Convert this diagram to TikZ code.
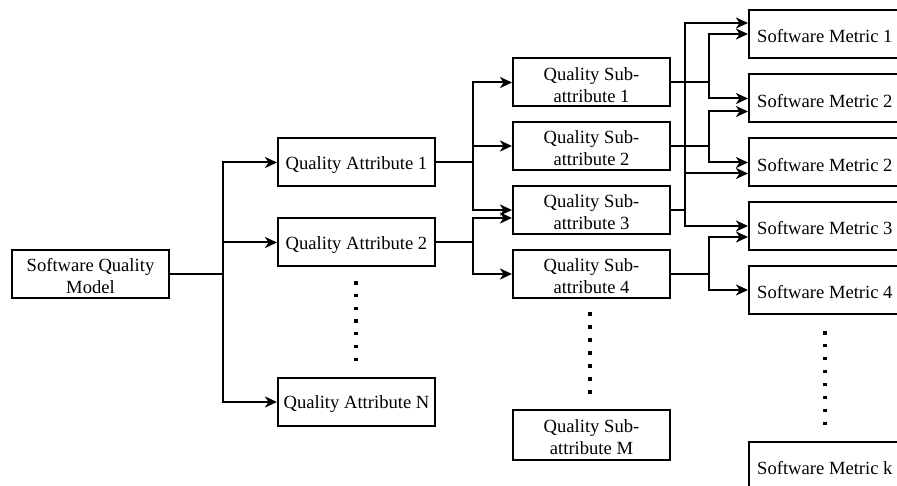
\documentclass[tikz,border=0pt]{standalone}
\usepackage{fontspec}
\setmainfont{Liberation Serif}
\usetikzlibrary{arrows.meta,calc}

\tikzset{
  box/.style={draw=black, line width=2pt, rectangle, minimum height=48pt, inner sep=0pt},
  wbox/.style={box, minimum width=157pt},
  mbox/.style={box, minimum width=160pt, anchor=west},
  txt/.style={font=\fontsize{18.6}{22}\selectfont, align=center, inner sep=0pt, yshift=-2.5pt},
  mtxt/.style={txt, anchor=west, xshift=9pt},
  link/.style={line width=2pt, -{Stealth[length=12pt, width=11pt, inset=3.5pt]}},
  wire/.style={line width=2pt},
  dot/.style={fill=black}
}

\newcommand{\dotcol}[4]{% x, first y, step, count
  \foreach \k in {1,...,#4}{
    \fill[dot] ({#1-1.6},{#2+(\k-1)*#3-1.6}) rectangle ++(3.2,3.2);
  }}

\begin{document}
\begin{tikzpicture}[x=1pt, y=-1pt]
  \useasboundingbox (0,0) rectangle (897,486);
  \clip (0,0) rectangle (897,486);

  % root
  \node[wbox, label={[txt]center:{Software Quality\\Model}}] (sqm) at (90.5,274) {};

  % quality attributes
  \node[wbox, label={[txt]center:Quality Attribute 1}] (qa1) at (356.5,162.5) {};
  \node[wbox, label={[txt]center:Quality Attribute 2}] (qa2) at (356.5,242.5) {};
  \node[wbox, label={[txt]center:Quality Attribute N}] (qan) at (356.5,402) {};

  % sub-attributes
  \node[wbox, label={[txt]center:{Quality Sub-\\attribute 1}}] (sa1) at (591.5,82.5) {};
  \node[wbox, label={[txt]center:{Quality Sub-\\attribute 2}}] (sa2) at (591.5,146) {};
  \node[wbox, label={[txt]center:{Quality Sub-\\attribute 3}}] (sa3) at (591.5,210) {};
  \node[wbox, label={[txt]center:{Quality Sub-\\attribute 4}}] (sa4) at (591.5,274) {};
  \node[wbox, minimum height=50pt, label={[txt]center:{Quality Sub-\\attribute M}}] (sam) at (591.5,435) {};

  % software metrics (running past the right border)
  \node[mbox, label={[mtxt]west:Software Metric 1}] (m1)  at (748,34) {};
  \node[mbox, label={[mtxt]west:Software Metric 2}] (m2)  at (748,98.5) {};
  \node[mbox, label={[mtxt]west:Software Metric 2}] (m2b) at (748,162.5) {};
  \node[mbox, label={[mtxt]west:Software Metric 3}] (m3)  at (748,226) {};
  \node[mbox, label={[mtxt]west:Software Metric 4}] (m4)  at (748,290) {};
  \node[mbox, label={[mtxt]west:Software Metric k}] (mk)  at (748,466) {};

  % model -> attributes
  \coordinate (b0) at (223,274);
  \draw[wire] (sqm.east) -- (b0);
  \draw[link] (b0) |- (qa1.west);
  \draw[link] (b0) |- (qa2.west);
  \draw[link] (b0) |- (qan.west);

  % attributes -> sub-attributes
  \coordinate (b1) at (473,162.5);
  \coordinate (b2) at (473,242.5);
  \draw[wire] (qa1.east) -- (b1);
  \draw[wire] (qa2.east) -- (b2);
  \draw[link] (b1) |- (sa1.west);
  \draw[link] (b1) |- (sa2.west);
  \draw[link] (b1) |- (sa3.west);
  \draw[link] (b2) |- ($(sa3.west)+(0,8)$);
  \draw[link] (b2) |- (sa4.west);

  % sub-attributes -> metrics
  \coordinate (c1) at (709,82.5);
  \coordinate (c2) at (709,146);
  \coordinate (c3) at (685,210);
  \coordinate (c4) at (709,274);
  \draw[wire] (sa1.east) -- (c1);
  \draw[wire] (sa2.east) -- (c2);
  \draw[wire] (sa3.east) -- (c3);
  \draw[wire] (sa4.east) -- (c4);
  \draw[link] (c1) |- (m1.west);
  \draw[link] (c1) |- (m2.west);
  \draw[link] (c2) |- ($(m2.west)+(0,13)$);
  \draw[link] (c2) |- (m2b.west);
  \draw[link] (c3) |- ($(m1.west)+(0,-11)$);
  \draw[link] (c3) |- ($(m2b.west)+(0,11)$);
  \draw[link] (c3) |- (m3.west);
  \draw[link] (c4) |- ($(m3.west)+(0,11)$);
  \draw[link] (c4) |- (m4.west);

  % ellipsis dots
  \dotcol{356}{283}{12.7}{7}
  \dotcol{590}{314}{13}{7}
  \dotcol{825}{333}{12.9}{8}
\end{tikzpicture}
\end{document}
